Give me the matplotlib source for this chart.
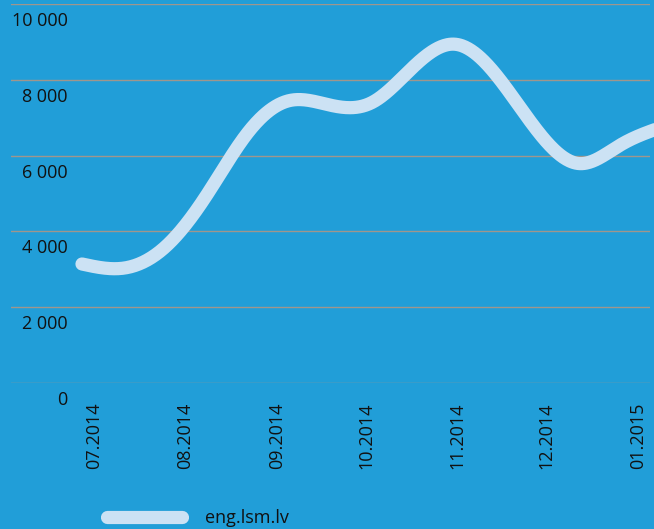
import numpy as np
import matplotlib
matplotlib.use('Agg')
import matplotlib.pyplot as plt
import matplotlib.dates as mdates
import matplotlib.transforms as mtransforms

# values, two-week steps
dates = ['2014-06-27', '2014-07-11', '2014-07-25', '2014-08-08', '2014-08-22',
         '2014-09-05', '2014-09-19', '2014-10-03', '2014-10-17', '2014-10-31',
         '2014-11-14', '2014-11-28', '2014-12-12', '2014-12-26', '2015-01-09']
visits = [3140, 3030, 3580, 4940, 6600,
          7450, 7330, 7400, 8340, 8940,
          8130, 6650, 5790, 6280, 6750]
series_name = 'eng.lsm.lv'
y_ticks = [0, 2000, 4000, 6000, 8000, 10000]
y_labels = ['0', '2 000', '4 000', '6 000', '8 000', '10 000']

BG = '#219ed8'
LINE = '#cce2f4'
GRID = '#a0968c'

plt.rcParams['font.family'] = ['Open Sans', 'DejaVu Sans']


def smooth(x, y, n=40):
    # natural cubic spline through the points
    x = np.asarray(x, float)
    y = np.asarray(y, float)
    k = len(x)
    h = np.diff(x)
    A = np.zeros((k, k))
    b = np.zeros(k)
    A[0, 0] = A[-1, -1] = 1
    for i in range(1, k - 1):
        A[i, i - 1] = h[i - 1]
        A[i, i] = 2 * (h[i - 1] + h[i])
        A[i, i + 1] = h[i]
        b[i] = 6 * ((y[i + 1] - y[i]) / h[i] - (y[i] - y[i - 1]) / h[i - 1])
    M = np.linalg.solve(A, b)
    xs, ys = [], []
    for i in range(k - 1):
        t = np.linspace(x[i], x[i + 1], n, endpoint=False)
        a = x[i + 1] - t
        c = t - x[i]
        s = (M[i] * a**3 + M[i + 1] * c**3) / (6 * h[i]) \
            + (y[i] / h[i] - M[i] * h[i] / 6) * a \
            + (y[i + 1] / h[i] - M[i + 1] * h[i] / 6) * c
        xs.append(t)
        ys.append(s)
    xs.append([x[-1]])
    ys.append([y[-1]])
    return np.concatenate(xs), np.concatenate(ys)


xnum = mdates.date2num(np.array(dates, dtype='datetime64[D]'))
sx, sy = smooth(xnum, visits)

fig = plt.figure(figsize=(6.54, 5.29), dpi=100, facecolor=BG)
ax = fig.add_axes([0.0168, 0.276, 0.977, 0.7164])
ax.set_facecolor(BG)

ax.plot(sx, sy, color=LINE, lw=9.5, solid_capstyle='round',
        clip_on=False, label=series_name)

ax.set_ylim(0, 10000)
ax.set_xlim(mdates.date2num(np.datetime64('2014-06-03')),
            mdates.date2num(np.datetime64('2015-01-05')))

for s in ax.spines.values():
    s.set_visible(False)

ax.set_yticks(y_ticks)
ax.yaxis.grid(True, color=GRID, lw=1.0)
ax.set_axisbelow(True)
ax.tick_params(axis='y', length=0, labelleft=False)

lab_tr = mtransforms.offset_copy(ax.get_yaxis_transform(), fig=fig,
                                 y=-17, units='dots')
for v, lab in zip(y_ticks, y_labels):
    ax.text(0.089, v, lab, transform=lab_tr, ha='right', va='center',
            fontsize=13, color='#111111', clip_on=False)

ax.xaxis.set_major_locator(mdates.MonthLocator())
ax.xaxis.set_major_formatter(mdates.DateFormatter('%m.%Y'))
ax.tick_params(axis='x', length=0, pad=14, labelsize=13,
               labelcolor='#111111', labelrotation=90)

fig.legend(loc='center', bbox_to_anchor=(0.303, 0.021), frameon=False,
           fontsize=13, handlelength=4.1, handletextpad=1.3,
           labelcolor='#111111')

fig.savefig('out.png', dpi=100, facecolor=BG)
